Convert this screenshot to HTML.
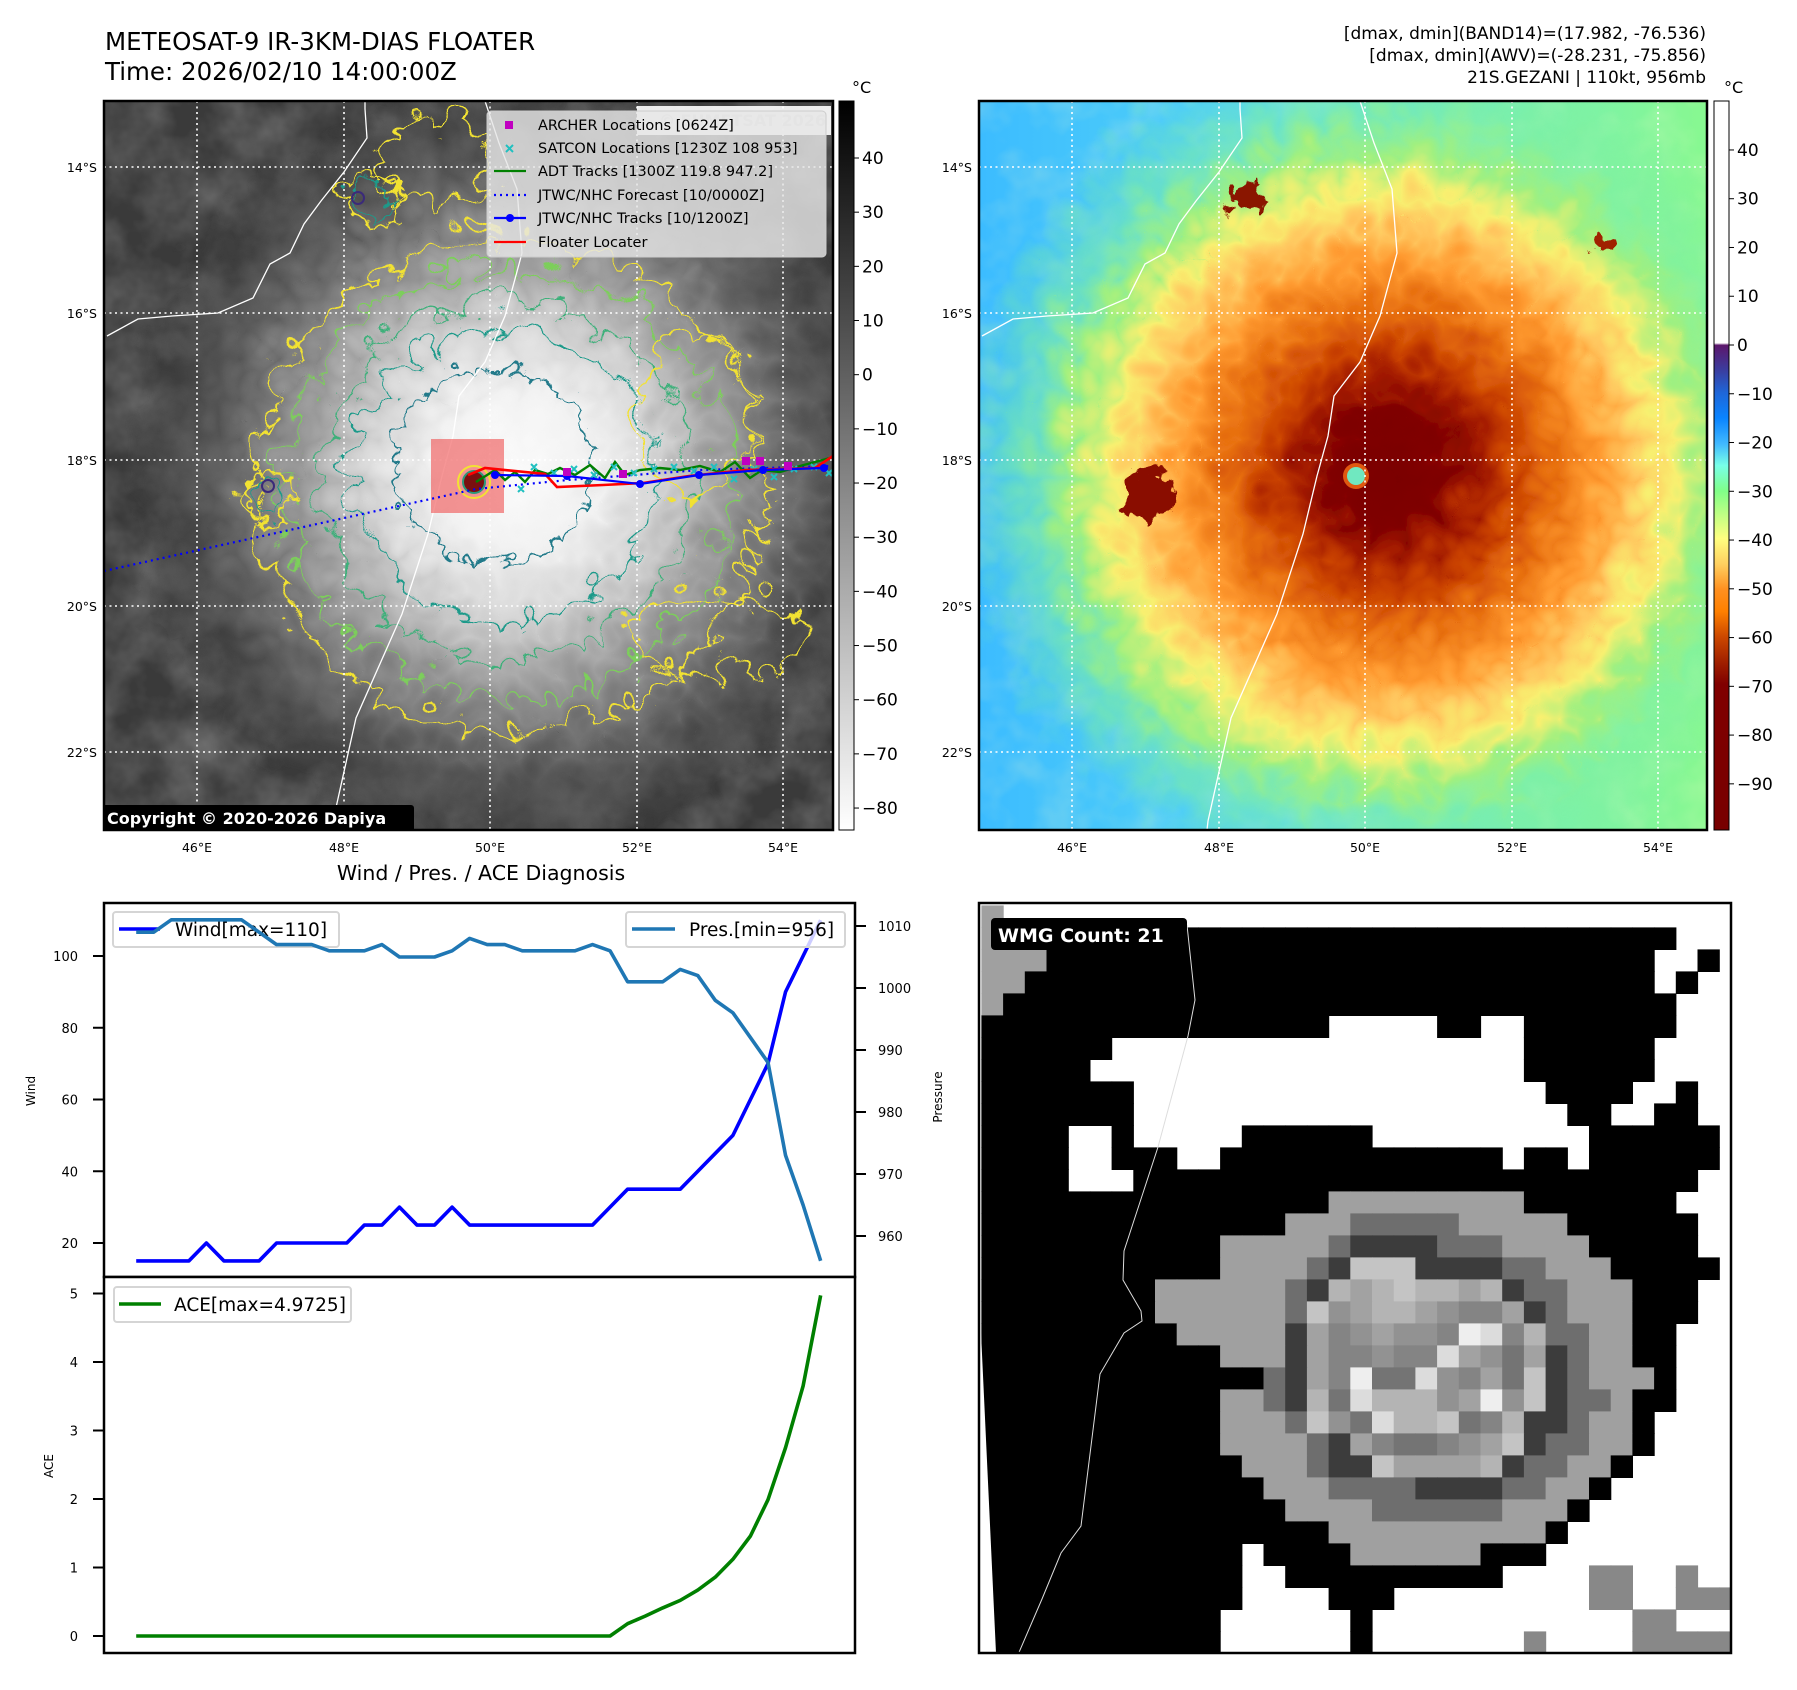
<!DOCTYPE html>
<html><head><meta charset="utf-8">
<style>
html,body{margin:0;padding:0;background:#fff;}
svg{display:block;font-family:"DejaVu Sans","Liberation Sans",sans-serif;}
</style></head>
<body>
<svg id="root" width="1797" height="1690" viewBox="0 0 1797 1690" xmlns="http://www.w3.org/2000/svg">
<defs>
  <clipPath id="clipL"><rect x="104" y="101" width="729" height="729"/></clipPath>
  <clipPath id="clipR"><rect x="979" y="101" width="728" height="729"/></clipPath>
  <clipPath id="clipW"><rect x="979" y="903" width="752" height="750"/></clipPath>
  <clipPath id="clipC1"><rect x="104" y="903" width="751" height="374"/></clipPath>
  <clipPath id="clipC2"><rect x="104" y="1277" width="751" height="376"/></clipPath>
  <filter id="noise" x="0" y="0" width="100%" height="100%">
    <feTurbulence type="fractalNoise" baseFrequency="0.018" numOctaves="4" seed="7"/>
    <feColorMatrix type="matrix" values="0 0 0 0 1  0 0 0 0 1  0 0 0 0 1  1.4 0 0 0 -0.45"/>
  </filter>
  <filter id="noise2" x="0" y="0" width="100%" height="100%">
    <feTurbulence type="fractalNoise" baseFrequency="0.025" numOctaves="3" seed="11"/>
    <feColorMatrix type="matrix" values="0 0 0 0 1  0 0 0 0 1  0 0 0 0 0.6  1.2 0 0 0 -0.5"/>
  </filter>
  <filter id="wob" x="-30%" y="-30%" width="160%" height="160%">
    <feTurbulence type="turbulence" baseFrequency="0.025" numOctaves="2" seed="5" result="t"/>
    <feDisplacementMap in="SourceGraphic" in2="t" scale="55" xChannelSelector="R" yChannelSelector="G"/>
  </filter>
  <filter id="wob2" x="-30%" y="-30%" width="160%" height="160%">
    <feTurbulence type="turbulence" baseFrequency="0.04" numOctaves="2" seed="9" result="t"/>
    <feDisplacementMap in="SourceGraphic" in2="t" scale="30" xChannelSelector="R" yChannelSelector="G"/>
  </filter>
  <radialGradient id="cloudL" cx="500" cy="455" r="430" gradientUnits="userSpaceOnUse">
    <stop offset="0" stop-color="#fbfbfb"/>
    <stop offset="0.18" stop-color="#f2f2f2"/>
    <stop offset="0.32" stop-color="#d8d8d8"/>
    <stop offset="0.46" stop-color="#a8a8a8"/>
    <stop offset="0.6" stop-color="#7a7a7a"/>
    <stop offset="0.75" stop-color="#585858" stop-opacity="0.6"/>
    <stop offset="0.9" stop-color="#404040" stop-opacity="0"/>
  </radialGradient>
  <linearGradient id="bgR" x1="0" y1="0" x2="1" y2="0">
    <stop offset="0" stop-color="#3cbcff"/>
    <stop offset="0.45" stop-color="#58d8f4"/>
    <stop offset="0.75" stop-color="#78f0b0"/>
    <stop offset="1" stop-color="#88f890"/>
  </linearGradient>
  <radialGradient id="cloudR" cx="1375" cy="455" r="430" gradientUnits="userSpaceOnUse">
    <stop offset="0" stop-color="#7a0000"/>
    <stop offset="0.13" stop-color="#800000"/>
    <stop offset="0.2" stop-color="#a01800"/>
    <stop offset="0.28" stop-color="#c84000"/>
    <stop offset="0.38" stop-color="#e87010"/>
    <stop offset="0.48" stop-color="#ff9a30"/>
    <stop offset="0.57" stop-color="#ffc860"/>
    <stop offset="0.65" stop-color="#f8f070"/>
    <stop offset="0.74" stop-color="#a0f080"/>
    <stop offset="0.84" stop-color="#80f0a0" stop-opacity="0.6"/>
    <stop offset="1" stop-color="#80f0a0" stop-opacity="0"/>
  </radialGradient>
  <linearGradient id="cbL" x1="0" y1="0" x2="0" y2="1">
    <stop offset="0" stop-color="#000"/>
    <stop offset="1" stop-color="#fff"/>
  </linearGradient>
  <linearGradient id="cbR" x1="0" y1="0" x2="0" y2="1">
    <stop offset="0" stop-color="#ffffff"/>
    <stop offset="0.332" stop-color="#ffffff"/>
    <stop offset="0.335" stop-color="#5c176c"/>
    <stop offset="0.37" stop-color="#3a3ea0"/>
    <stop offset="0.4" stop-color="#1f66d8"/>
    <stop offset="0.435" stop-color="#0a84ff"/>
    <stop offset="0.47" stop-color="#40b8ff"/>
    <stop offset="0.5" stop-color="#78ffe8"/>
    <stop offset="0.535" stop-color="#80ff88"/>
    <stop offset="0.6" stop-color="#ffff80"/>
    <stop offset="0.635" stop-color="#ffd060"/>
    <stop offset="0.67" stop-color="#ff9020"/>
    <stop offset="0.7" stop-color="#ff8000"/>
    <stop offset="0.735" stop-color="#cc4800"/>
    <stop offset="0.77" stop-color="#a02000"/>
    <stop offset="0.8" stop-color="#800000"/>
    <stop offset="1" stop-color="#780000"/>
  </linearGradient>
</defs>

<!-- Titles -->
<text x="105" y="50" font-size="24.5">METEOSAT-9 IR-3KM-DIAS FLOATER</text>
<text x="105" y="80" font-size="24.5">Time: 2026/02/10 14:00:00Z</text>
<g font-size="17" text-anchor="end">
  <text x="1706" y="39">[dmax, dmin](BAND14)=(17.982, -76.536)</text>
  <text x="1706" y="61">[dmax, dmin](AWV)=(-28.231, -75.856)</text>
  <text x="1706" y="83">21S.GEZANI | 110kt, 956mb</text>
</g>

<!-- LEFT MAP -->
<g clip-path="url(#clipL)">
  <rect x="104" y="101" width="729" height="729" fill="#3a3a3a"/>
  <rect x="104" y="101" width="729" height="729" fill="#fff" filter="url(#noise)" opacity="0.3"/>
  <g filter="url(#wob)">
    <ellipse cx="500" cy="455" rx="430" ry="430" fill="url(#cloudL)"/>
  </g>
  <g fill="none" filter="url(#wob)">
    <ellipse cx="495" cy="470" rx="255" ry="245" stroke="#f2e233" stroke-width="2.6"/>
    <ellipse cx="495" cy="470" rx="225" ry="215" stroke="#7ccf5a" stroke-width="2.2"/>
    <ellipse cx="492" cy="465" rx="185" ry="178" stroke="#3db07a" stroke-width="2.2"/>
    <ellipse cx="490" cy="460" rx="150" ry="145" stroke="#1f9a8a" stroke-width="2.2"/>
    <ellipse cx="680" cy="400" rx="60" ry="80" stroke="#f2e233" stroke-width="2.6"/>
    <ellipse cx="700" cy="620" rx="90" ry="40" stroke="#f2e233" stroke-width="2.6"/>
    <ellipse cx="420" cy="150" rx="60" ry="40" stroke="#f2e233" stroke-width="2.6"/>
  </g>
  <g fill="none" filter="url(#wob2)">
    <ellipse cx="485" cy="458" rx="100" ry="98" stroke="#217a8a" stroke-width="2.2"/>
    <ellipse cx="262" cy="490" rx="24" ry="30" stroke="#f2e233" stroke-width="2.6"/>
    <ellipse cx="262" cy="490" rx="15" ry="20" stroke="#1f9a8a" stroke-width="2"/>
    <ellipse cx="365" cy="192" rx="20" ry="18" stroke="#1f9a8a" stroke-width="2"/>
    <ellipse cx="365" cy="192" rx="28" ry="26" stroke="#f2e233" stroke-width="2.6"/>
  </g>
  <circle cx="268" cy="486" r="6" fill="none" stroke="#3b2a7a" stroke-width="2"/>
  <circle cx="358" cy="198" r="6" fill="none" stroke="#3b2a7a" stroke-width="2"/>
  <g fill="none" stroke="#fff" stroke-width="1.3">
    <polyline points="485,101 499,143 517,189 522,253 505,316 485,362 459,396 453,436 442,476 428,534 402,614 356,718 333,821 332,830"/>
    <polyline points="365,101 365,109 367,138 344,172 321,201 304,224 290,253 270,264 253,298 218,313 172,316 138,319 107,336"/>
  </g>
  <g stroke="#fff" stroke-width="1.6" stroke-dasharray="2,3.5" fill="none">
    <line x1="197" y1="101" x2="197" y2="830"/><line x1="344" y1="101" x2="344" y2="830"/>
    <line x1="490" y1="101" x2="490" y2="830"/><line x1="637" y1="101" x2="637" y2="830"/>
    <line x1="783" y1="101" x2="783" y2="830"/>
    <line x1="104" y1="167" x2="833" y2="167"/><line x1="104" y1="313" x2="833" y2="313"/>
    <line x1="104" y1="460" x2="833" y2="460"/><line x1="104" y1="606" x2="833" y2="606"/>
    <line x1="104" y1="752" x2="833" y2="752"/>
  </g>
  <rect x="431" y="439" width="73" height="74" fill="#f05050" opacity="0.6"/>
  <circle cx="474" cy="482" r="11" fill="#7a1010" stroke="#2a9a7a" stroke-width="2"/>
  <circle cx="474" cy="482" r="16" fill="none" stroke="#f2e233" stroke-width="2"/>
  <polyline points="104,571 258,537 476,489 568,480 700,470 830,466" fill="none" stroke="#0000ff" stroke-width="2.2" stroke-dasharray="2,4"/>
  <polyline points="476,482 495,470 505,480 515,472 525,482 535,470 548,474 560,468 575,475 590,465 605,478 615,462 625,475 640,470 660,468 680,470 700,466 720,472 735,462 750,478 762,470 780,472 800,466 815,462 830,458" fill="none" stroke="#008000" stroke-width="2.4"/>
  <g stroke="#20c0c0" stroke-width="2">
    <path d="M531,464l6,6m0,-6l-6,6 M551,470l6,6m0,-6l-6,6 M571,466l6,6m0,-6l-6,6 M591,472l6,6m0,-6l-6,6 M611,464l6,6m0,-6l-6,6 M631,470l6,6m0,-6l-6,6 M651,466l6,6m0,-6l-6,6 M671,464l6,6m0,-6l-6,6 M691,468l6,6m0,-6l-6,6 M711,464l6,6m0,-6l-6,6 M731,476l6,6m0,-6l-6,6 M751,466l6,6m0,-6l-6,6 M771,474l6,6m0,-6l-6,6 M791,466l6,6m0,-6l-6,6 M811,464l6,6m0,-6l-6,6 M826,470l6,6m0,-6l-6,6 M518,486l6,6m0,-6l-6,6"/>
  </g>
  <polyline points="468,475 485,468 545,474 557,487 603,485 643,483 689,476 746,470 815,468 833,456" fill="none" stroke="#ff0000" stroke-width="2.6"/>
  <polyline points="495,475 567,476 640,484 699,475 763,470 824,468" fill="none" stroke="#0000ff" stroke-width="2.2"/>
  <g fill="#0000ff">
    <circle cx="495" cy="475" r="4"/><circle cx="567" cy="476" r="4"/><circle cx="640" cy="484" r="4"/><circle cx="699" cy="475" r="4"/><circle cx="763" cy="470" r="4"/><circle cx="824" cy="468" r="4"/>
  </g>
  <g fill="#c000c0">
    <rect x="563" y="468" width="8" height="8"/><rect x="619" y="470" width="8" height="8"/><rect x="742" y="457" width="8" height="8"/><rect x="756" y="457" width="8" height="8"/><rect x="784" y="462" width="8" height="8"/>
  </g>
  <rect x="637" y="106" width="194" height="29" fill="#fff" opacity="0.9"/>
  <text x="826" y="126" text-anchor="end" font-size="16" font-weight="bold" fill="#d8d8d8">© EUMETSAT 2026</text>
  <g>
    <rect x="487" y="111" width="339" height="146" rx="4" fill="#e6e6e6" fill-opacity="0.82" stroke="#cccccc"/>
    <g font-size="14.5">
      <rect x="505" y="121" width="8" height="8" fill="#c000c0"/>
      <text x="538" y="130">ARCHER Locations [0624Z]</text>
      <path d="M506,145l7,7m0,-7l-7,7" stroke="#20c0c0" stroke-width="2"/>
      <text x="538" y="153">SATCON Locations [1230Z 108 953]</text>
      <line x1="494" y1="171" x2="526" y2="171" stroke="#008000" stroke-width="2.2"/>
      <text x="538" y="176">ADT Tracks [1300Z 119.8 947.2]</text>
      <line x1="494" y1="195" x2="526" y2="195" stroke="#0000ff" stroke-width="2.2" stroke-dasharray="2,4"/>
      <text x="538" y="200">JTWC/NHC Forecast [10/0000Z]</text>
      <line x1="494" y1="218" x2="526" y2="218" stroke="#0000ff" stroke-width="2.2"/>
      <circle cx="510" cy="218" r="4" fill="#0000ff"/>
      <text x="538" y="223">JTWC/NHC Tracks [10/1200Z]</text>
      <line x1="494" y1="242" x2="526" y2="242" stroke="#ff0000" stroke-width="2.2"/>
      <text x="538" y="247">Floater Locater</text>
    </g>
  </g>
  <rect x="102" y="805" width="312" height="27" rx="3" fill="#000"/>
  <text x="107" y="824" font-size="16" font-weight="bold" fill="#fff">Copyright © 2020-2026 Dapiya</text>
</g>
<rect x="104" y="101" width="729" height="729" fill="none" stroke="#000" stroke-width="2.5"/>

<!-- left colorbar -->
<rect x="839" y="101" width="15" height="729" fill="url(#cbL)" stroke="#000" stroke-width="1"/>
<text x="852" y="93" font-size="16">°C</text>
<g id="cbLticks" font-size="17"></g>

<!-- left map axis labels -->
<g font-size="12.5">
  <g text-anchor="end"><text x="97" y="172">14°S</text><text x="97" y="318">16°S</text><text x="97" y="465">18°S</text><text x="97" y="611">20°S</text><text x="97" y="757">22°S</text></g>
  <g text-anchor="middle"><text x="197" y="852">46°E</text><text x="344" y="852">48°E</text><text x="490" y="852">50°E</text><text x="637" y="852">52°E</text><text x="783" y="852">54°E</text></g>
</g>

<!-- RIGHT MAP -->
<g clip-path="url(#clipR)">
  <rect x="979" y="101" width="729" height="729" fill="url(#bgR)"/>
  <rect x="979" y="101" width="729" height="729" fill="#fff" filter="url(#noise2)" opacity="0.35"/>
  <g filter="url(#wob)">
    <ellipse cx="1375" cy="455" rx="430" ry="430" fill="url(#cloudR)"/>
  </g>
  <g filter="url(#wob2)">
    <ellipse cx="1140" cy="486" rx="24" ry="28" fill="#8a1000"/>
    <ellipse cx="1238" cy="190" rx="16" ry="18" fill="#8a1800"/>
    <ellipse cx="1598" cy="236" rx="9" ry="9" fill="#a02000"/>
  </g>
  <circle cx="1356" cy="476" r="13" fill="#e05810"/>
  <circle cx="1356" cy="476" r="9" fill="#70e8c0"/>
  <g fill="none" stroke="#fff" stroke-width="1.3">
    <polyline points="1360,101 1374,143 1392,189 1397,253 1380,316 1360,362 1334,396 1328,436 1317,476 1303,534 1277,614 1231,718 1208,821 1207,830"/>
    <polyline points="1240,101 1240,109 1242,138 1219,172 1196,201 1179,224 1165,253 1145,264 1128,298 1093,313 1047,316 1013,319 982,336"/>
  </g>
  <g stroke="#fff" stroke-width="1.6" stroke-dasharray="2,3.5" fill="none">
    <line x1="1072" y1="101" x2="1072" y2="830"/><line x1="1219" y1="101" x2="1219" y2="830"/>
    <line x1="1365" y1="101" x2="1365" y2="830"/><line x1="1512" y1="101" x2="1512" y2="830"/>
    <line x1="1658" y1="101" x2="1658" y2="830"/>
    <line x1="979" y1="167" x2="1708" y2="167"/><line x1="979" y1="313" x2="1708" y2="313"/>
    <line x1="979" y1="460" x2="1708" y2="460"/><line x1="979" y1="606" x2="1708" y2="606"/>
    <line x1="979" y1="752" x2="1708" y2="752"/>
  </g>
</g>
<rect x="979" y="101" width="728" height="729" fill="none" stroke="#000" stroke-width="2.5"/>
<rect x="1714" y="101" width="15" height="729" fill="url(#cbR)" stroke="#000" stroke-width="1"/>
<text x="1724" y="93" font-size="16">°C</text>
<g id="cbRticks" font-size="17"></g>
<g font-size="12.5">
  <g text-anchor="end"><text x="972" y="172">14°S</text><text x="972" y="318">16°S</text><text x="972" y="465">18°S</text><text x="972" y="611">20°S</text><text x="972" y="757">22°S</text></g>
  <g text-anchor="middle"><text x="1072" y="852">46°E</text><text x="1219" y="852">48°E</text><text x="1365" y="852">50°E</text><text x="1512" y="852">52°E</text><text x="1658" y="852">54°E</text></g>
</g>

<!-- CHARTS -->
<text x="481" y="880" font-size="20.5" text-anchor="middle">Wind / Pres. / ACE Diagnosis</text>
<g id="charts"></g>

<!-- WMG -->
<g clip-path="url(#clipW)">
  <rect x="979" y="903" width="752" height="750" fill="#fff"/>
  <g id="wmg"></g>
  <polygon points="979,1290 979,1653 996,1653" fill="#fff"/>
  <polyline fill="none" stroke="#ddd" stroke-width="1" points="1187,925 1195,1000 1188,1036 1158,1147 1124,1251 1123,1280 1141,1311 1142,1321 1124,1333 1100,1374 1081,1526 1061,1553 1042,1599 1017,1657"/>
  <rect x="991" y="918" width="196" height="32" rx="4" fill="#000"/>
  <text x="998" y="942" font-size="19" font-weight="bold" fill="#fff">WMG Count: 21</text>
</g>
<rect x="979" y="903" width="752" height="750" fill="none" stroke="#000" stroke-width="2.5"/>

<script>
// ---- chart data ----
var timeIndex = [0,1,2,3,4,5,6,7,8,9,10,11,12,13,14,15,16,17,18,19,20,21,22,23,24,25,26,27,28,29,30,31,32,33,34,35,36,37,38,39];
var windValues = [15,15,15,15,20,15,15,15,20,20,20,20,20,25,25,30,25,25,30,25,25,25,25,25,25,25,25,30,35,35,35,35,40,45,50,60,70,90,100,110];
var pressureValues = [1009,1009,1011,1011,1011,1011,1011,1009,1007,1007,1007,1006,1006,1006,1007,1005,1005,1005,1006,1008,1007,1007,1006,1006,1006,1006,1007,1006,1001,1001,1001,1003,1002,998,996,992,988,973,965,956];
var aceValues = [0,0,0,0,0,0,0,0,0,0,0,0,0,0,0,0,0,0,0,0,0,0,0,0,0,0,0,0,0.18,0.29,0.41,0.52,0.67,0.86,1.12,1.46,1.99,2.75,3.65,4.9725];
var windTicks = [20,40,60,80,100];
var pressureTicks = [960,970,980,990,1000,1010];
var aceTicks = [0,1,2,3,4,5];
var irColorbarTicks = [40,30,20,10,0,-10,-20,-30,-40,-50,-60,-70,-80];
var awvColorbarTicks = [40,30,20,10,0,-10,-20,-30,-40,-50,-60,-70,-80,-90];
var wmgRows = [
"AWWWWWWWWWWWWWWWWWWWWWWWWWWWWWWWWWW",
"AAAKKKKKKKKKKKKKKKKKKKKKKKKKKKKKWWW",
"AAAKKKKKKKKKKKKKKKKKKKKKKKKKKKKWWKW",
"AAKKKKKKKKKKKKKKKKKKKKKKKKKKKKKWKWW",
"AKKKKKKKKKKKKKKKKKKKKKKKKKKKKKKKWWW",
"KKKKKKKKKKKKKKKKWWWWWKKWWKKKKKKKWWW",
"KKKKKKWWWWWWWWWWWWWWWWWWWKKKKKKWWWW",
"KKKKKWWWWWWWWWWWWWWWWWWWWKKKKKKWWWW",
"KKKKKKKWWWWWWWWWWWWWWWWWWWKKKKWWKWW",
"KKKKKKKWWWWWWWWWWWWWWWWWWWWKKWWKKWW",
"KKKKWWKWWWWWKKKKKKWWWWWWWWWWKKKKKKW",
"KKKKWWKKKWWKKKKKKKKKKKKKWKKWKKKKKKW",
"KKKKWWWKKKKKKKKKKKKKKKKKKKKKKKKKKWW",
"KKKKKKKKKKKKKKKKAAAAAAAAAKKKKKKKWWW",
"KKKKKKKKKKKKKKAAAMMMMMAAAAAKKKKKKWW",
"KKKKKKKKKKKAAAAAMDDDDMMMAAAAKKKKKWW",
"KKKKKKKKKKKAAAAMDuuuDDDDMMAAAKKKKKW",
"KKKKKKKKAAAAAAMDtstuttstDMMAAAKKKWW",
"KKKKKKKKAAAAAAMursttsrqqsDMAAAKKKWW",
"KKKKKKKKKAAAAADsqrsrrqxvqtMMAAKKWWW",
"KKKKKKKKKKKAAADsqqrqqvsrpsDMAAKKWWW",
"KKKKKKKKKKKKKMDsqxppvrqspuDMAAAKWWW",
"KKKKKKKKKKKAAMDtpvtttrsxruDMMAKKWWW",
"KKKKKKKKKKKAAAMurpvttupqtDDMAAKWWWW",
"KKKKKKKKKKKAAAAMDsqppqrsuDMMAAKWWWW",
"KKKKKKKKKKKKAAAMDDusssstDMMAAKWWWWW",
"KKKKKKKKKKKKKAAAMMMMDDDDMMAAKWWWWWW",
"KKKKKKKKKKKKKKAAAAMMMMMMAAAKWWWWWWW",
"KKKKKKKKKKKKKKKKAAAAAAAAAAKWWWWWWWW",
"KKKKKKKKKKKKWKKKKAAAAAAKKKWWWWWWWWW",
"KKKKKKKKKKKKWWKKKKKKKKKKWWWWGGWWGWW",
"KKKKKKKKKKKKWWWWKKKWWWWWWWWWGGWWGGG",
"KKKKKKKKKKKWWWWWWKWWWWWWWWWWWWGGWWW",
"KKKKKKKKKKKWWWWWWKWWWWWWWGWWWWGGGGG"
];
</script>
<script>
var NS = "http://www.w3.org/2000/svg";
function mk(tag, attrs, parent) {
  var e = document.createElementNS(NS, tag);
  for (var k in attrs) e.setAttribute(k, attrs[k]);
  parent.appendChild(e);
  return e;
}
// ---- colorbar ticks ----
(function () {
  var gL = document.getElementById("cbLticks");
  irColorbarTicks.forEach(function (v) {
    var y = 158 + (40 - v) * 5.417;
    var tk = mk("line", {x1: 854, y1: y, x2: 859, y2: y, stroke: "#000", "stroke-width": 1}, gL);
    
    
    var t = mk("text", {x: 862, y: y + 6}, gL);
    
    
    t.textContent = v < 0 ? "\u2212" + (-v) : String(v);
  });
  var gR = document.getElementById("cbRticks");
  awvColorbarTicks.forEach(function (v) {
    var y = 345 - v * 4.876;
    var tk = mk("line", {x1: 1729, y1: y, x2: 1734, y2: y, stroke: "#000", "stroke-width": 1}, gR);
    
    
    var t = mk("text", {x: 1737, y: y + 6}, gR);
    
    
    t.textContent = v < 0 ? "\u2212" + (-v) : String(v);
  });
})();

// ---- charts ----
(function () {
  var g = document.getElementById("charts");
  function xs(i) { return 136.2 + i * 17.55; }
  function yW(v) { return 956 + (100 - v) * 3.5875; }
  function yP(p) { return 926 + (1010 - p) * 6.2; }
  function yA(v) { return 1636 - v * 68.5; }

  var f1 = mk("rect", {x: 104, y: 903, width: 751, height: 374, fill: "#fff", stroke: "#000", "stroke-width": 2.5}, g);
  
  
  var f2 = mk("rect", {x: 104, y: 1277, width: 751, height: 376, fill: "#fff", stroke: "#000", "stroke-width": 2.5}, g);
  
  

  windTicks.forEach(function (v) {
    var y = yW(v);
    var tk = mk("line", {x1: 93, y1: y, x2: 104, y2: y, stroke: "#000", "stroke-width": 2}, g);
    
    
    var t = mk("text", {x: 78, y: y + 5, "font-size": 13, "text-anchor": "end"}, g);
    
    
    t.textContent = v;
  });
  pressureTicks.forEach(function (v) {
    var y = yP(v);
    var tk = mk("line", {x1: 855, y1: y, x2: 866, y2: y, stroke: "#000", "stroke-width": 2}, g);
    
    
    var t = mk("text", {x: 878, y: y + 5, "font-size": 13}, g);
    
    
    t.textContent = v;
  });
  aceTicks.forEach(function (v) {
    var y = yA(v);
    var tk = mk("line", {x1: 93, y1: y, x2: 104, y2: y, stroke: "#000", "stroke-width": 2}, g);
    
    
    var t = mk("text", {x: 78, y: y + 5, "font-size": 13, "text-anchor": "end"}, g);
    
    
    t.textContent = v;
  });

  var wl = mk("text", {x: 0, y: 0, "font-size": 12, "text-anchor": "middle", transform: "translate(35,1091) rotate(-90)"}, g);
  
  
  wl.textContent = "Wind";
  var pl = mk("text", {x: 0, y: 0, "font-size": 12, "text-anchor": "middle", transform: "translate(942,1097) rotate(-90)"}, g);
  
  
  pl.textContent = "Pressure";
  var al = mk("text", {x: 0, y: 0, "font-size": 12, "text-anchor": "middle", transform: "translate(53,1466) rotate(-90)"}, g);
  
  
  al.textContent = "ACE";

  var g1 = mk("g", {"clip-path": "url(#clipC1)"}, g);
  var g2 = mk("g", {"clip-path": "url(#clipC2)"}, g);

  var wp = timeIndex.map(function (i) { return xs(i) + "," + yW(windValues[i]); }).join(" ");
  var wline = mk("polyline", {points: wp, fill: "none", stroke: "#0000ff", "stroke-width": 3.6, "stroke-linejoin": "round"}, g1);
  
  

  var lw = mk("g", {}, g1);
  
  
  mk("rect", {x: 113, y: 912, width: 226, height: 35, rx: 3, fill: "#fff", "fill-opacity": 0.8, stroke: "#d5d5d5", "stroke-width": 2}, lw);
  mk("line", {x1: 119, y1: 929, x2: 160, y2: 929, stroke: "#0000ff", "stroke-width": 3.6}, lw);
  var lwt = mk("text", {x: 175, y: 936, "font-size": 18.5}, lw);
  lwt.textContent = "Wind[max=110]";

  var pp = timeIndex.map(function (i) { return xs(i) + "," + yP(pressureValues[i]); }).join(" ");
  var pline = mk("polyline", {points: pp, fill: "none", stroke: "#1f77b4", "stroke-width": 3.6, "stroke-linejoin": "round"}, g1);
  
  

  var lp = mk("g", {}, g1);
  
  
  mk("rect", {x: 626, y: 912, width: 219, height: 35, rx: 3, fill: "#fff", "fill-opacity": 0.8, stroke: "#d5d5d5", "stroke-width": 2}, lp);
  mk("line", {x1: 632, y1: 929, x2: 675, y2: 929, stroke: "#1f77b4", "stroke-width": 3.6}, lp);
  var lpt = mk("text", {x: 689, y: 936, "font-size": 18.5}, lp);
  lpt.textContent = "Pres.[min=956]";

  var ap = timeIndex.map(function (i) { return xs(i) + "," + yA(aceValues[i]); }).join(" ");
  var aline = mk("polyline", {points: ap, fill: "none", stroke: "#008000", "stroke-width": 3.6, "stroke-linejoin": "round"}, g2);
  
  

  var la = mk("g", {}, g2);
  
  
  mk("rect", {x: 114, y: 1287, width: 237, height: 35, rx: 3, fill: "#fff", "fill-opacity": 0.8, stroke: "#d5d5d5", "stroke-width": 2}, la);
  mk("line", {x1: 119, y1: 1304, x2: 161, y2: 1304, stroke: "#008000", "stroke-width": 3.6}, la);
  var lat = mk("text", {x: 174, y: 1311, "font-size": 18.5}, la);
  lat.textContent = "ACE[max=4.9725]";
})();

// ---- WMG grid ----
(function () {
  var g = document.getElementById("wmg");
  var colors = {K: "#000000", W: "#ffffff", A: "#a0a0a0", M: "#6e6e6e", D: "#3c3c3c", G: "#888888",
    p: "#747474", q: "#848484", r: "#929292", s: "#a2a2a2", t: "#b4b4b4", u: "#c4c4c4", v: "#dcdcdc", x: "#eeeeee"};
  var cw = 21.7, ch = 22.0, x0 = 981.4, y0 = 905.4;
  wmgRows.forEach(function (row, r) {
    for (var c = 0; c < row.length && c < 35; c++) {
      var col = colors[row[c]] || "#000";
      if (col === "#ffffff") continue;
      var cell = mk("rect", {x: x0 + c * cw, y: y0 + r * ch, width: cw + 0.6, height: ch + 0.6, fill: col}, g);
      
      
    }
  });
})();
</script>
</svg>
</body></html>
